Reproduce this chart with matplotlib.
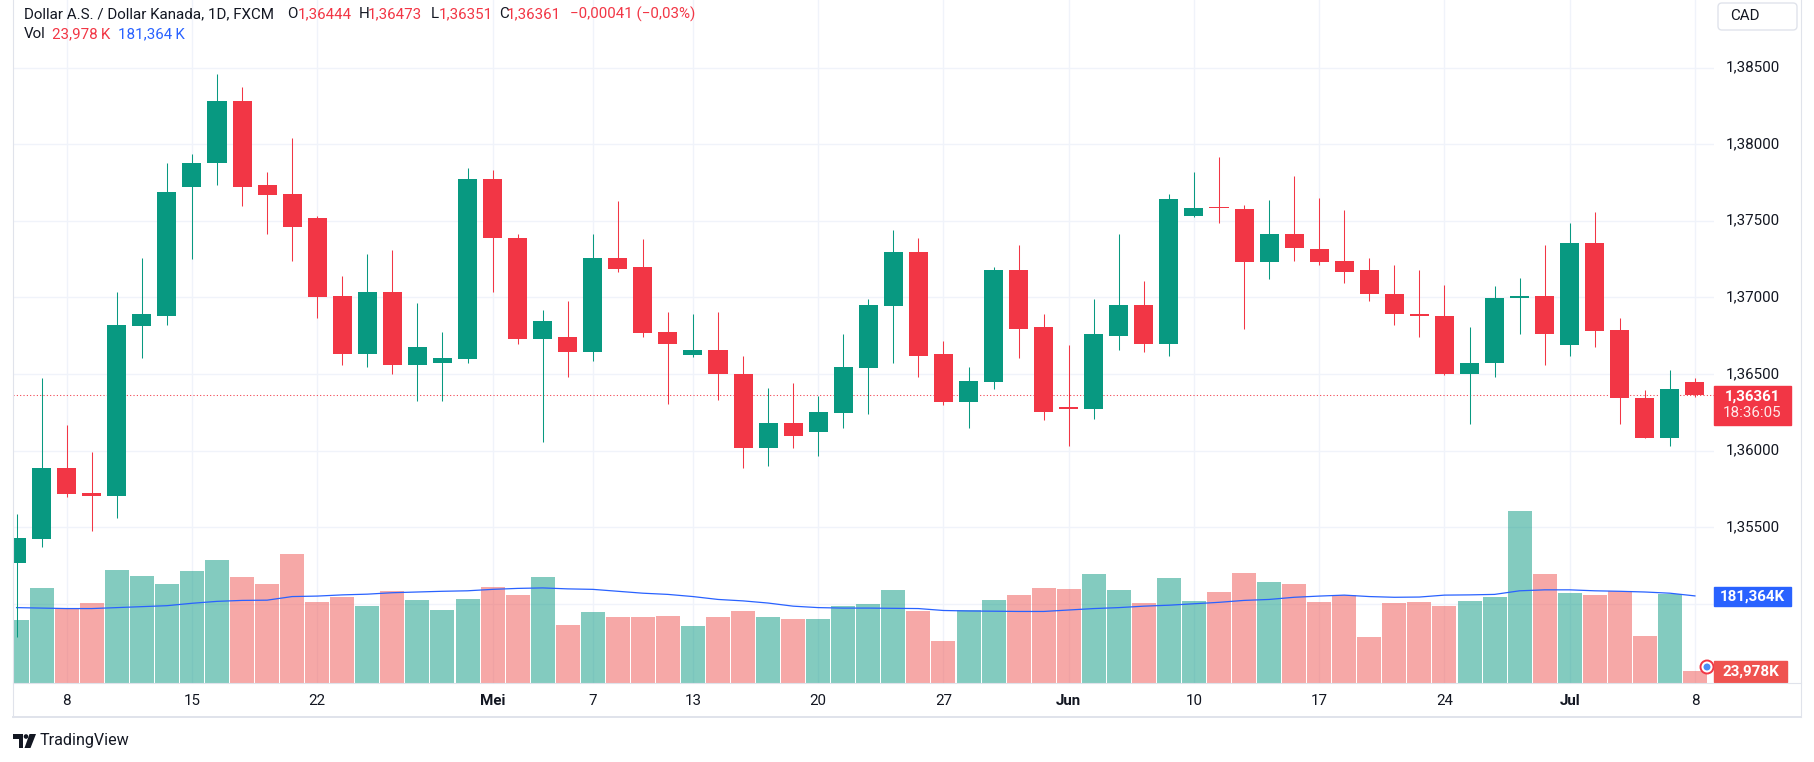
import matplotlib
matplotlib.use('Agg')
import matplotlib.pyplot as plt
import matplotlib.transforms as mtrans
from matplotlib.patches import Rectangle, Circle, Polygon, FancyBboxPatch
from matplotlib.lines import Line2D
import numpy as np
import pandas as pd

plt.rcParams['font.family'] = ['Roboto', 'DejaVu Sans']

# ---------------- data ----------------
dates = pd.bdate_range('2024-04-04', '2024-07-08')

opens = [1.35266, 1.35420, 1.35889, 1.35721, 1.35703, 1.36811, 1.36880, 1.37722, 1.37874, 1.38284,
         1.37730, 1.37672, 1.37520, 1.37006, 1.36630, 1.37032, 1.36561, 1.36569, 1.36595, 1.37775,
         1.37389, 1.36731, 1.36744, 1.36646, 1.37259, 1.37195, 1.36771, 1.36622, 1.36659, 1.36502,
         1.36014, 1.36177, 1.36121, 1.36244, 1.36537, 1.36942, 1.37293, 1.36633, 1.36316, 1.36446,
         1.37181, 1.36803, 1.36284, 1.36268, 1.36750, 1.36947, 1.36694, 1.37528, 1.37589, 1.37578,
         1.37229, 1.37416, 1.37317, 1.37235, 1.37176, 1.37024, 1.36894, 1.36880, 1.36497, 1.36569,
         1.36995, 1.37006, 1.36689, 1.37352, 1.36784, 1.36345, 1.36081, 1.36444]
highs = [1.35588, 1.36475, 1.36169, 1.35988, 1.37032, 1.37259, 1.37874, 1.37933, 1.38460, 1.38375,
         1.37818, 1.38042, 1.37528, 1.37141, 1.37285, 1.37312, 1.36960, 1.36771, 1.37847, 1.37829,
         1.37410, 1.36915, 1.36974, 1.37410, 1.37626, 1.37378, 1.36907, 1.36894, 1.36907, 1.36614,
         1.36411, 1.36438, 1.36353, 1.36758, 1.36987, 1.37437, 1.37384, 1.36712, 1.36542, 1.37195,
         1.37344, 1.36894, 1.36686, 1.36992, 1.37416, 1.37104, 1.37677, 1.37815, 1.37919, 1.37605,
         1.37632, 1.37794, 1.37645, 1.37568, 1.37259, 1.37208, 1.37181, 1.37083, 1.36808, 1.37077,
         1.37123, 1.37339, 1.37488, 1.37554, 1.36867, 1.36393, 1.36526, 1.36473]
lows = [1.34781, 1.35367, 1.35695, 1.35474, 1.35562, 1.36606, 1.36816, 1.37253, 1.37735, 1.37594,
        1.37416, 1.37235, 1.36867, 1.36561, 1.36547, 1.36502, 1.36321, 1.36321, 1.36569, 1.37032,
        1.36694, 1.36054, 1.36478, 1.36587, 1.37163, 1.36744, 1.36302, 1.36609, 1.36329, 1.35884,
        1.35897, 1.36014, 1.35964, 1.36150, 1.36238, 1.36569, 1.36478, 1.36297, 1.36150, 1.36401,
        1.36601, 1.36198, 1.36028, 1.36204, 1.36654, 1.36641, 1.36614, 1.37522, 1.37482, 1.36795,
        1.37120, 1.37237, 1.37211, 1.37093, 1.36979, 1.36822, 1.36744, 1.36495, 1.36172, 1.36478,
        1.36758, 1.36558, 1.36617, 1.36675, 1.36172, 1.36081, 1.36028, 1.36351]
closes = [1.35426, 1.35889, 1.35713, 1.35703, 1.36816, 1.36888, 1.37685, 1.37879, 1.38284, 1.37722,
          1.37666, 1.37461, 1.37000, 1.36630, 1.37032, 1.36561, 1.36673, 1.36601, 1.37775, 1.37384,
          1.36731, 1.36848, 1.36646, 1.37259, 1.37187, 1.36766, 1.36694, 1.36659, 1.36497, 1.36014,
          1.36177, 1.36094, 1.36249, 1.36542, 1.36947, 1.37293, 1.36617, 1.36316, 1.36451, 1.37181,
          1.36795, 1.36252, 1.36268, 1.36758, 1.36947, 1.36694, 1.37640, 1.37586, 1.37581, 1.37229,
          1.37416, 1.37325, 1.37229, 1.37168, 1.37019, 1.36888, 1.36875, 1.36497, 1.36574, 1.36998,
          1.37006, 1.36760, 1.37352, 1.36779, 1.36342, 1.36081, 1.36402, 1.36361]
volumes_k = [131, 197, 155, 166, 235, 222, 206, 233, 256, 220, 206, 268,
             168, 180, 160, 191, 173, 151, 174, 199, 184, 220, 120, 147,
             137, 137, 139, 118, 137, 150, 137, 133, 133, 160, 164, 193, 150,
             87, 153, 173, 183, 197, 195, 226, 193, 166, 218, 170, 189,
             230, 210, 206, 168, 184, 95, 166, 168, 160, 170, 178.5, 358, 226,
             187, 183, 191, 97, 185, 23.978]
vol_ma_k = [157, 156, 155, 155, 157, 159, 161, 166, 170, 172, 172.5, 180,
            181, 183.5, 185, 188, 189.5, 191, 192, 195, 197, 198, 196, 195,
            191, 187, 184.5, 180, 174, 171, 166.5, 160, 157, 156, 156, 155.5, 155,
            151, 150, 149.5, 149, 149, 152, 155, 157, 160, 162, 165, 168,
            172, 174, 178.5, 181, 183, 180, 178.5, 179, 183, 183.5, 184.5, 192, 194,
            194, 192, 191, 189.5, 187, 181.364]

price_ticks = [1.355, 1.360, 1.365, 1.370, 1.375, 1.380, 1.385]
grid_prices = [1.350, 1.355, 1.360, 1.365, 1.370, 1.375, 1.380, 1.385]
tick_dates = ['2024-04-08', '2024-04-15', '2024-04-22', '2024-05-01', '2024-05-07', '2024-05-13',
              '2024-05-20', '2024-05-27', '2024-06-03', '2024-06-10', '2024-06-17', '2024-06-24',
              '2024-07-01', '2024-07-08']
tick_labels = ['8', '15', '22', 'Mei', '7', '13', '20', '27', 'Jun', '10', '17', '24', 'Jul', '8']
month_labels = ['Mei', 'Jun', 'Jul']

title = 'Dollar A.S. / Dollar Kanada, 1D, FXCM'
countdown = '18:36:05'
currency = 'CAD'

# ---------------- style ----------------
UP = '#089981'
DOWN = '#f23645'
UP_VOL = (8/255, 153/255, 129/255, 0.5)
DOWN_VOL = (239/255, 83/255, 80/255, 0.5)
MA_COL = '#2962ff'
TXT = '#131722'
GRID = '#f0f3fa'
BORDER = '#e0e3eb'
FS = 10.9

W, H = 1814, 762
fig = plt.figure(figsize=(W/100, H/100), dpi=100)
fig.patch.set_facecolor('white')
ID = mtrans.IdentityTransform()

def ptext(x, y, s, **kw):
    return fig.text(x, H - y, s, transform=ID, **kw)

def prect(x0, y0, x1, y1, **kw):
    fig.add_artist(Rectangle((x0, H - y1), x1 - x0, y1 - y0, transform=ID, **kw))

def fmt(v, nd=5):
    s = f"{abs(v):.{nd}f}".replace('.', ',')
    return ('\u2212' if v < 0 else '') + s

def fmtk(v):
    return f"{v:,.3f}".replace(',', 'X').replace('.', ',').replace('X', '.')

PL, PR, PT, PB = 13, 1714, 0, 683
rect = [PL / W, (H - PB) / H, (PR - PL) / W, (PB - PT) / H]

n = len(dates)
x = np.arange(n)
date_strs = [d.strftime('%Y-%m-%d') for d in dates]
tick_pos = [date_strs.index(d) for d in tick_dates]

xlim = (-0.144, 67.76)
ylim_price = (1.344824, 1.389406)
ylim_vol = (0, 1422.3)

axv = fig.add_axes(rect)
ax = fig.add_axes(rect)
for a in (axv, ax):
    a.set_xlim(*xlim)
    a.set_axis_off()
axv.set_ylim(*ylim_vol)
ax.set_ylim(*ylim_price)

blend_grid = mtrans.blended_transform_factory(axv.transAxes, ax.transData)
for p in grid_prices:
    axv.plot([0, 1], [p, p], transform=blend_grid, color=GRID, lw=1.0, zorder=0)
for tp in tick_pos:
    axv.axvline(tp, color=GRID, lw=1.0, zorder=0)

o = np.array(opens); h = np.array(highs); l = np.array(lows); c = np.array(closes)
up = c >= o
vcols = [UP_VOL if u else DOWN_VOL for u in up]
axv.bar(x, volumes_k, width=0.958, color=vcols, linewidth=0, zorder=1)
axv.plot(x, vol_ma_k, color=MA_COL, lw=0.9, zorder=2)

ccols = [UP if u else DOWN for u in up]
ax.vlines(x, l, h, colors=ccols, lw=0.75, zorder=3)
body_b = np.minimum(o, c)
body_h = np.maximum(np.abs(c - o), 0.00003)
ax.bar(x, body_h, bottom=body_b, width=0.76, color=ccols, linewidth=0, zorder=4)

ax.axhline(closes[-1], color=DOWN, lw=0.75, dashes=(1.0, 2.2), zorder=2)

# price axis labels
blend_y = mtrans.blended_transform_factory(ax.transAxes, ax.transData)
lx = (1726 - PL) / (PR - PL)
for p in price_ticks:
    ax.text(lx, p, fmt(p), transform=blend_y, ha='left', va='center', fontsize=FS,
            color=TXT, clip_on=False)

# time axis labels
blend_x = mtrans.blended_transform_factory(ax.transData, ax.transAxes)
ty = -(701 - PB) / (PB - PT)
for tp, lab in zip(tick_pos, tick_labels):
    ax.text(tp, ty, lab, transform=blend_x, ha='center', va='center', fontsize=FS,
            color=TXT, clip_on=False,
            fontweight='bold' if lab in month_labels else 'normal')

# frame lines
for xs, ys in [([12.5, 12.5], [0, 717]), ([12.5, 1801], [717, 717]),
               ([1801, 1801], [0, 717]), ([12.5, 1801], [683, 683])]:
    fig.add_artist(Line2D(xs, [H - yy for yy in ys], transform=ID, color=BORDER,
                          lw=1.4 if ys[0] == 717 else 0.8))

# CAD box
fig.add_artist(FancyBboxPatch((1718, H - 30), 79, 27, boxstyle='round,pad=0,rounding_size=4',
                              transform=ID, facecolor='white', edgecolor=BORDER, lw=1))
ptext(1730, 16, currency, ha='left', va='center', fontsize=FS, color=TXT)

# last price label
last = closes[-1]
yl = ax.transData.transform((0, last))[1]
ylp = H - yl
prect(1714, ylp - 9.5, 1791, ylp + 30, color=DOWN)
ptext(1752.5, ylp + 1, fmt(last), ha='center', va='center', fontsize=FS, color='white',
      fontweight='bold')
ptext(1752.5, ylp + 18, countdown, ha='center', va='center', fontsize=FS, color='#ffe9ea')

# volume MA label
yma = H - axv.transData.transform((0, vol_ma_k[-1]))[1]
prect(1714, yma - 8.5, 1791, yma + 10.5, color=MA_COL)
ptext(1752.5, yma + 1, fmtk(vol_ma_k[-1]) + 'K', ha='center', va='center', fontsize=FS,
      color='white', fontweight='bold')

# small event icon
fig.add_artist(Circle((1707, H - 667), 6.5, transform=ID, facecolor='white',
                      edgecolor=DOWN, lw=1.4))
fig.add_artist(Circle((1707, H - 667), 3.5, transform=ID, facecolor='#4c8cf5', lw=0))

# last volume label
prect(1714, 661, 1787, 682, color='#ef5350')
ptext(1750.5, 672, fmtk(volumes_k[-1]) + 'K', ha='center', va='center', fontsize=FS,
      color='white', fontweight='bold')

# header legend
chg = closes[-1] - closes[-2]
pct = chg / closes[-2] * 100
Y1, Y2 = 14, 34.3
ptext(23.7, Y1, title, ha='left', va='center', fontsize=FS, color=TXT)
for lx0, lab, vx, val in [(287, 'O', 298, opens[-1]), (358.6, 'H', 368, highs[-1]),
                          (430.5, 'L', 439, lows[-1]), (499, 'C', 507, closes[-1])]:
    ptext(lx0, Y1, lab, ha='left', va='center', fontsize=FS, color=TXT)
    ptext(vx, Y1, fmt(val), ha='left', va='center', fontsize=FS, color=DOWN)
ptext(570, Y1, f"{fmt(chg)} ({fmt(pct, 2)}%)", ha='left', va='center', fontsize=FS, color=DOWN)
ptext(23.7, Y2, 'Vol', ha='left', va='center', fontsize=FS, color=TXT)
ptext(52, Y2, fmtk(volumes_k[-1]) + '\u2009K', ha='left', va='center', fontsize=FS, color=DOWN)
ptext(117.5, Y2, fmtk(vol_ma_k[-1]) + '\u2009K', ha='left', va='center', fontsize=FS, color=MA_COL)

# TradingView logo
fig.add_artist(Polygon([(13, H-734), (23, H-734), (23, H-748), (18.5, H-748), (18.5, H-738.5), (13, H-738.5)],
                       closed=True, transform=ID, facecolor=TXT, lw=0))
fig.add_artist(Circle((26, H - 736.5), 2.3, transform=ID, facecolor=TXT, lw=0))
fig.add_artist(Polygon([(29.5, H-734), (36, H-734), (30.5, H-748), (24.5, H-748)],
                       closed=True, transform=ID, facecolor=TXT, lw=0))
ptext(40, 741, 'TradingView', ha='left', va='center', fontsize=11.6, color=TXT)

fig.savefig('out.png', dpi=100, facecolor='white')
